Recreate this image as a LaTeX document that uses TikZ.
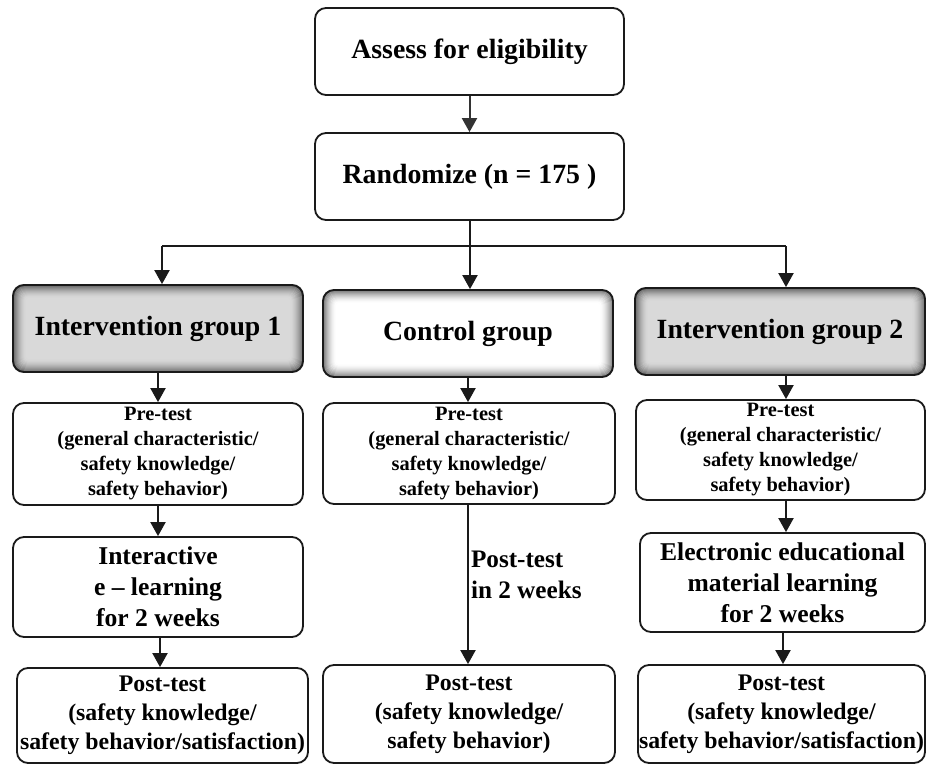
\documentclass[tikz,border=0pt]{standalone}
\usepackage{fontspec}
\setmainfont{Liberation Serif}
\usetikzlibrary{arrows.meta,calc}
\pgfdeclarelayer{background}
\pgfsetlayers{background,main}
\definecolor{linec}{HTML}{1A1A1A}
\definecolor{igfill}{HTML}{D9D9D9}
\definecolor{cgfill}{HTML}{FFFFFF}
\tikzset{
  box/.style={draw=linec, line width=1.8pt, rounded corners=11pt, align=center, inner sep=2pt, font=\bfseries},
  arr/.style={draw=linec, line width=2pt, -{Triangle[length=14pt,width=15pt]}},
  ln/.style={draw=linec, line width=2pt},
  fbig/.style={font=\bfseries\fontsize{27.8}{32}\selectfont},
  fpre/.style={font=\bfseries\fontsize{20.4}{25}\selectfont},
  fmid/.style={font=\bfseries\fontsize{25.6}{31}\selectfont},
  flbl/.style={font=\bfseries\fontsize{25.2}{31}\selectfont},
  fpost/.style={font=\bfseries\fontsize{23.8}{29}\selectfont},
}
\newcommand{\groupshade}[2]{%
  \begin{pgfonlayer}{background}
    \fill[#2, rounded corners=11pt] (#1.south west) rectangle (#1.north east);
    \foreach \i in {1,...,13} {
      \pgfmathsetmacro\p{65*(1-\i/14)^1.6}
      \pgfmathsetmacro\r{max(11-0.6*\i,3)}
      \draw[draw=black!\p!#2, line width=1.3pt, rounded corners=\r pt]
        ($(#1.south west)+(\i pt,\i pt)$) rectangle ($(#1.north east)+(-\i pt,-\i pt)$);
    }
  \end{pgfonlayer}}
\begin{document}
\begin{tikzpicture}[x=1pt,y=-1pt]
\begin{pgfonlayer}{background}
\fill[white] (0,0) rectangle (927,765);
\end{pgfonlayer}
\useasboundingbox (0,0) rectangle (927,765);

\node[box, fbig, minimum width=309pt, minimum height=87pt] (assess) at (469.5,51.5) {Assess for eligibility};
\node[box, fbig, minimum width=309pt, minimum height=87pt] (rand) at (469.5,176.5) {Randomize (n = 175 )};

\node[box, fbig, minimum width=290pt, minimum height=87pt] (g1) at (158,328.5) {Intervention group 1};
\node[box, fbig, minimum width=290pt, minimum height=87pt] (gc) at (468,333.5) {Control group};
\node[box, fbig, minimum width=290pt, minimum height=87pt] (g2) at (780,331.5) {Intervention group 2};
\groupshade{g1}{igfill}
\groupshade{gc}{cgfill}
\groupshade{g2}{igfill}

\node[box, fpre, minimum width=290pt, minimum height=102pt] (pre1) at (158,454) {Pre-test\\(general characteristic/\\safety knowledge/\\safety behavior)};
\node[box, fpre, minimum width=292pt, minimum height=101pt] (prec) at (469,453.5) {Pre-test\\(general characteristic/\\safety knowledge/\\safety behavior)};
\node[box, fpre, minimum width=289pt, minimum height=100pt] (pre2) at (780.5,450) {Pre-test\\(general characteristic/\\safety knowledge/\\safety behavior)};

\node[box, fmid, minimum width=290pt, minimum height=100pt] (int1) at (158,587) {Interactive\\e -- learning\\for 2 weeks};
\node[box, fmid, minimum width=285pt, minimum height=99pt] (ele2) at (782.5,582.5) {Electronic educational\\material learning\\for 2 weeks};

\node[box, fpost, minimum width=291pt, minimum height=95pt, inner sep=0pt] (post1) at (162.5,715.5) {Post-test\\(safety knowledge/\\safety behavior/satisfaction)};
\node[box, fpost, minimum width=292pt, minimum height=98pt] (postc) at (469,714) {Post-test\\(safety knowledge/\\safety behavior)};
\node[box, fpost, minimum width=287pt, minimum height=98pt, inner sep=0pt] (post2) at (781.5,714) {Post-test\\(safety knowledge/\\safety behavior/satisfaction)};

% connectors
\draw[arr, draw=black!80] (assess.south) -- (rand.south |- rand.north);
\coordinate (j) at (470,246);
\coordinate (hl) at (162,246);
\coordinate (hr) at (786,246);
\draw[ln] (rand.south -| j) -- (j);
\draw[ln] (hl) -- (hr);
\draw[arr] (j) -- (j |- gc.north);
\draw[arr] (hl) -- (hl |- g1.north);
\draw[arr] (hr) -- (hr |- g2.north);

\draw[arr] (g1.south) -- (pre1.north);
\draw[arr] (gc.south) -- (gc.south |- prec.north);
\draw[arr] (g2.south -| hr) -- (pre2.north -| hr);

\draw[arr] (pre1.south) -- (int1.north);
\draw[arr] (int1.south -| 160,0) -- (post1.north -| 160,0);
\draw[arr] (prec.south -| gc.south) -- (postc.north -| gc.south)
  node[pos=0.44, anchor=west, flbl, align=left, inner sep=2pt] (lbl) {Post-test\\in 2 weeks};
\draw[arr] (pre2.south -| hr) -- (ele2.north -| hr);
\draw[arr] (ele2.south -| 783,0) -- (post2.north -| 783,0);
\end{tikzpicture}
\end{document}
